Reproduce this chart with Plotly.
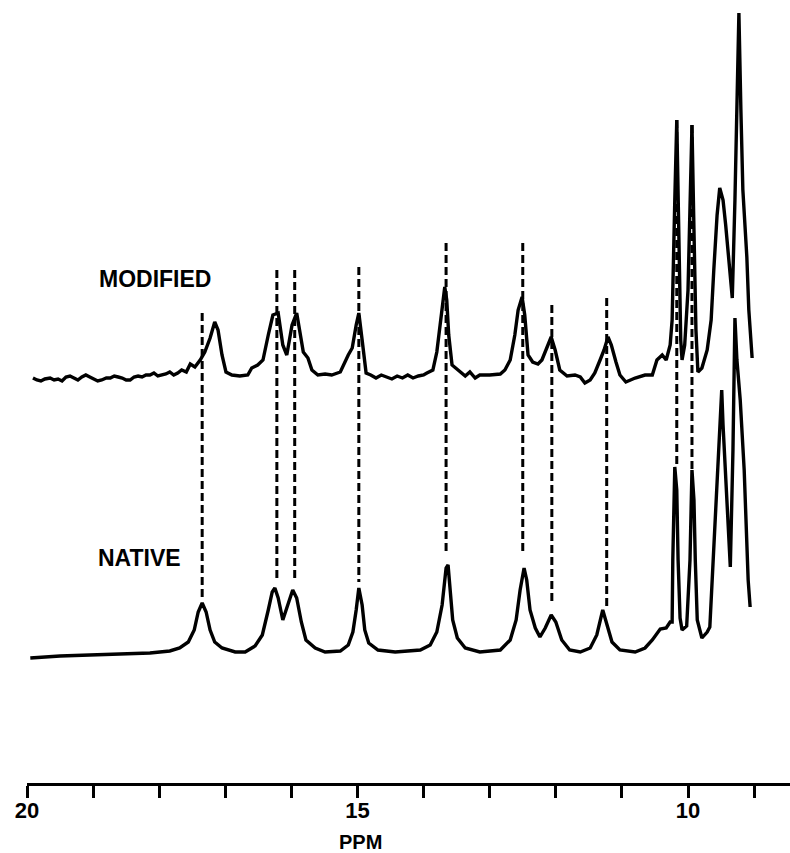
import plotly.graph_objects as go

# ---------------- data ----------------
# NATIVE spectrum: chemical shift (ppm) and intensity (arbitrary units)
native_ppm = [19.95, 19.50, 19.05, 18.59, 18.14, 17.84, 17.69, 17.56, 17.47, 17.41,
              17.35, 17.29, 17.23, 17.16, 17.05, 16.85, 16.70, 16.55, 16.44, 16.35,
              16.29, 16.25, 16.20, 16.13, 16.05, 15.98, 15.92, 15.85, 15.78, 15.64,
              15.49, 15.26, 15.14, 15.07, 15.02, 14.98, 14.93, 14.89, 14.83, 14.69,
              14.43, 14.05, 13.90, 13.80, 13.72, 13.66, 13.63, 13.60, 13.56, 13.49,
              13.37, 13.15, 12.84, 12.69, 12.60, 12.54, 12.48, 12.44, 12.39, 12.31,
              12.24, 12.16, 12.07, 12.00, 11.91, 11.79, 11.63, 11.48, 11.38, 11.29,
              11.23, 11.15, 11.03, 10.80, 10.65, 10.54, 10.42, 10.33, 10.27, 10.24,
              10.23, 10.20, 10.17, 10.15, 10.12, 10.09, 10.02, 9.97, 9.94, 9.91,
              9.89, 9.86, 9.79, 9.71, 9.67, 9.62, 9.56, 9.52, 9.49, 9.47,
              9.41, 9.36, 9.32, 9.29, 9.26, 9.21, 9.15, 9.09, 9.06]
native_int = [-6, -4, -3, -2, -1, 1, 4, 10, 22, 40,
              49, 40, 22, 10, 4, 0, 0, 6, 17, 42,
              60, 64, 54, 32, 47, 62, 54, 30, 12, 4,
              0, 1, 7, 20, 42, 64, 47, 22, 9, 2,
              0, 2, 7, 20, 47, 84, 87, 67, 32, 14,
              4, 0, 2, 12, 32, 62, 84, 72, 42, 24,
              15, 24, 37, 30, 12, 2, 0, 4, 17, 42,
              27, 10, 2, 0, 4, 12, 23, 24, 30, 30,
              92, 185, 162, 92, 34, 22, 26, 92, 182, 152,
              92, 32, 14, 20, 25, 92, 172, 232, 262, 227,
              152, 85, 202, 334, 292, 252, 182, 72, 45]

# MODIFIED spectrum: chemical shift (ppm) and intensity (arbitrary units)
modified_ppm = [19.91, 19.85, 19.79, 19.73, 19.65, 19.59, 19.53, 19.47, 19.41, 19.35,
                19.29, 19.23, 19.17, 19.11, 19.05, 18.99, 18.93, 18.87, 18.80, 18.74,
                18.68, 18.62, 18.56, 18.50, 18.44, 18.38, 18.32, 18.26, 18.20, 18.14,
                18.08, 18.02, 17.96, 17.90, 17.84, 17.78, 17.72, 17.66, 17.59, 17.53,
                17.46, 17.38, 17.31, 17.23, 17.16, 17.11, 17.05, 16.99, 16.90,
                16.78, 16.66, 16.60, 16.51, 16.43, 16.35, 16.28, 16.20, 16.13, 16.07,
                15.99, 15.92, 15.87, 15.82, 15.75, 15.69, 15.60, 15.49, 15.39, 15.26,
                15.14, 15.08, 15.02, 14.98, 14.93, 14.87, 14.80, 14.72, 14.64, 14.56,
                14.48, 14.40, 14.32, 14.24, 14.16, 14.08, 14.00,
                13.95, 13.86, 13.80, 13.74, 13.68, 13.65, 13.62, 13.57, 13.51,
                13.45, 13.37, 13.30, 13.22, 13.15, 13.00, 12.84, 12.77, 12.69, 12.62,
                12.57, 12.51, 12.47, 12.42, 12.35, 12.27, 12.21, 12.15, 12.07, 12.01,
                11.94, 11.83, 11.71, 11.63, 11.56, 11.48, 11.41, 11.33, 11.27, 11.21,
                11.16, 11.09, 11.03, 10.94, 10.80, 10.65, 10.54, 10.47, 10.39, 10.33,
                10.27, 10.24, 10.23, 10.20, 10.17, 10.14, 10.11, 10.09, 10.05, 10.00,
                9.97, 9.94, 9.91, 9.88, 9.85, 9.79, 9.71, 9.65, 9.61, 9.56,
                9.52, 9.47, 9.43, 9.38, 9.33, 9.29, 9.26, 9.23, 9.20, 9.17,
                9.11, 9.08, 9.03]
modified_int = [-1, -3, -4, -2, -1, -3, -2, -4, 0, 1,
                -1, -3, 0, 2, 0, -2, -4, -3, -1, -1,
                1, 0, -1, -3, -3, 0, 1, 0, 2, 2,
                4, 1, 2, 3, 5, 2, 4, 7, 5, 13,
                10, 17, 25, 39, 55, 47, 22, 5, 2,
                1, 2, 9, 12, 17, 42, 62, 64, 32, 22,
                52, 64, 45, 25, 19, 7, 2, 3, 2, 5,
                22, 29, 52, 64, 37, 4, 2, -1, 2, 0,
                -2, 1, -1, 2, -1, 1, 2,
                4, 7, 25, 57, 90, 77, 42, 12, 9,
                5, 1, 5, -1, 2, 2, 3, 7, 17, 42,
                67, 80, 62, 22, 15, 13, 17, 27, 40, 27,
                7, 1, 2, 0, -6, -3, 4, 17, 27, 40,
                32, 15, 2, -5, -1, 2, 2, 17, 22, 17,
                32, 57, 100, 177, 257, 127, 37, 17, 32, 87,
                177, 252, 147, 47, 5, 9, 27, 57, 107, 162,
                189, 177, 152, 117, 79, 177, 277, 364, 267, 187,
                120, 67, 19]

# Vertical offset of the MODIFIED trace above the NATIVE trace
modified_offset = 275

# Dashed correlation lines: shift (ppm), upper and lower ends (same units as the plot)
link_ppm = [17.35, 16.22, 15.95, 14.98, 13.66, 12.50, 12.06, 11.23, 10.17, 9.94]
link_top = [339, 382, 382, 385, 409, 409, 347, 354, 532, 527]
link_bottom = [52, 70, 72, 70, 97, 97, 49, 45, 185, 182]

tick_vals = [20, 19, 18, 17, 16, 15, 14, 13, 12, 11, 10, 9]
tick_text = ["20", "", "", "", "", "15", "", "", "", "", "10", ""]

# ---------------- figure ----------------
fig = go.Figure()

for xv, yt, yb in zip(link_ppm, link_top, link_bottom):
    fig.add_trace(go.Scatter(
        x=[xv, xv], y=[yt, yb], mode="lines",
        line=dict(color="black", width=3, dash="8px,4px"),
        hoverinfo="skip", showlegend=False))

fig.add_trace(go.Scatter(
    x=modified_ppm, y=[v + modified_offset for v in modified_int],
    mode="lines", line=dict(color="black", width=3.4),
    name="MODIFIED", showlegend=False))

fig.add_trace(go.Scatter(
    x=native_ppm, y=native_int,
    mode="lines", line=dict(color="black", width=3.4),
    name="NATIVE", showlegend=False))

label_font = dict(family="Liberation Sans, Arial, sans-serif", size=23, color="black")
fig.add_annotation(x=18.06, y=373, text="<b>MODIFIED</b>", showarrow=False,
                   xanchor="center", yanchor="middle", font=label_font)
fig.add_annotation(x=18.30, y=94, text="<b>NATIVE</b>", showarrow=False,
                   xanchor="center", yanchor="middle", font=label_font)
fig.add_annotation(x=14.95, xref="x", y=-0.0754, yref="paper", text="<b>PPM</b>",
                   showarrow=False, xanchor="center", yanchor="middle",
                   font=dict(family="Liberation Sans, Arial, sans-serif", size=20,
                             color="black"))

fig.update_layout(
    width=790, height=853,
    margin=dict(l=27, r=0, t=0, b=70),
    paper_bgcolor="white", plot_bgcolor="white",
    xaxis=dict(range=[20, 8.457], showgrid=False, zeroline=False,
               showline=True, linecolor="black", linewidth=3,
               ticks="outside", ticklen=12, tickwidth=3, tickcolor="black",
               tickvals=tick_vals, ticktext=tick_text, ticklabelstandoff=-6,
               tickfont=dict(family="Liberation Sans, Arial, sans-serif",
                             size=22, color="black", weight="bold")),
    yaxis=dict(range=[-131, 652], visible=False, showgrid=False, zeroline=False),
)

fig.write_html("out.html",
               config={"displayModeBar": False},
               post_script="document.body.style.margin='0px';"
                           "document.body.style.padding='0px';")
